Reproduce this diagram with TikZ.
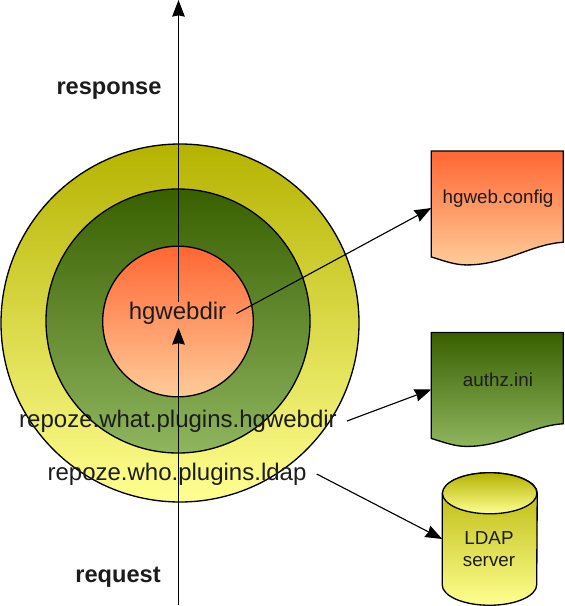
\documentclass[tikz,border=0pt]{standalone}
\usepackage{fontspec}
\setmainfont{Liberation Sans}
\usetikzlibrary{arrows.meta}
\definecolor{InkGray}{RGB}{28,28,28}
\definecolor{OliveTop}{RGB}{181,179,0}
\definecolor{OliveBottom}{RGB}{255,255,145}
\definecolor{GreenTop}{RGB}{56,96,0}
\definecolor{GreenBottom}{RGB}{143,181,94}
\definecolor{OrangeTop}{RGB}{255,102,51}
\definecolor{OrangeBottom}{RGB}{255,204,153}
\tikzset{
  flow/.style={-{Stealth[length=12.5pt,width=9.5pt,inset=1pt]},line width=0.85pt,draw=black},
  ring/.style={circle,draw=black,line width=1pt,inner sep=0pt},
  olivefill/.style={top color=OliveTop,bottom color=OliveBottom},
  greenfill/.style={top color=GreenTop,bottom color=GreenBottom},
  orangefill/.style={top color=OrangeTop,bottom color=OrangeBottom},
  caption/.style={text=InkGray,inner ysep=0pt,inner xsep=7.5pt,font=\fontsize{18}{20}\selectfont},
  strongcaption/.style={text=InkGray,font=\fontsize{17.7}{20}\selectfont\bfseries},
  smallcaption/.style={text=InkGray,align=center,font=\fontsize{14.1}{16.5}\selectfont},
  docbox/.style={rectangle,inner sep=0pt,minimum width=98.6pt,minimum height=85pt},
  dbbox/.style={rectangle,inner sep=0pt,minimum width=70.9pt,minimum height=99pt}
}
% wavy page shape on top of an empty docbox node
\newcommand{\docshape}[2]{
  \shade[draw=black,line width=1pt,#2] (#1.north west) -- (#1.north east)
    -- ([yshift=17pt]#1.south east)
    .. controls +(-33,2) and ([shift={(8,0)}]#1.south) .. ([xshift=-23pt]#1.south)
    .. controls +(-12,0) and +(13,4) .. ([yshift=6pt]#1.south west) -- cycle;
}
\begin{document}
\begin{tikzpicture}[x=0.75pt,y=-0.75pt]
  \useasboundingbox (0,0) rectangle (564,606);
  % rings
  \node[ring,olivefill,minimum size=268.5pt] (outerring) at (180,323) {};
  \node[ring,greenfill,minimum size=198pt] (midring) at (178,321) {};
  \node[ring,orangefill,minimum size=113pt] (innerring) at (178,321.5) {};

  % documents and database
  \node[docbox] (config) at (497.3,208) {};
  \docshape{config}{orangefill}
  \node[docbox] (authz) at (497.3,389.5) {};
  \docshape{authz}{greenfill}
  \node[dbbox] (ldap) at (489.7,539) {};
  \shade[draw=black,line width=1pt,olivefill] ([yshift=-15.4pt]ldap.north west)
    -- ([yshift=15.4pt]ldap.south west)
    arc[start angle=180,end angle=360,x radius=35.45pt,y radius=15.4pt]
    -- ([yshift=-15.4pt]ldap.north east)
    arc[start angle=0,end angle=180,x radius=35.45pt,y radius=15.4pt] -- cycle;
  \shade[draw=black,line width=1pt,olivefill] ([yshift=-15.4pt]ldap.north)
    ellipse [x radius=35.45pt,y radius=15.4pt];

  % texts
  \node[caption] (hgwebdir) at (177.5,313.5) {hgwebdir};
  \node[caption] (what) at (178,421) {repoze.what.plugins.hgwebdir};
  \node[caption] (who) at (177,474) {repoze.who.plugins.ldap};
  \node[strongcaption] (response) at (109,91) {response};
  \node[strongcaption] (request) at (118,577) {request};
  \node[smallcaption] (configtext) at (498,199) {hgweb.config};
  \node[smallcaption] (authztext) at (498,380) {authz.ini};
  \node[smallcaption] (ldaptext) at (489,549) {LDAP\\server};

  % flows
  \coordinate (bottomend) at (178.5,605);
  \coordinate (topend) at (178.5,0);
  \draw[flow,line width=0.75pt,shorten >=2.2pt] (bottomend) -- (hgwebdir.south -| bottomend);
  \draw[flow,line width=0.75pt] (hgwebdir.north -| topend) -- (topend);
  \draw[flow] (hgwebdir.east) -- (config.west);
  \draw[flow] (what.east) -- (authz.west);
  \draw[flow] (who.east) -- (ldap.west);
\end{tikzpicture}
\end{document}
